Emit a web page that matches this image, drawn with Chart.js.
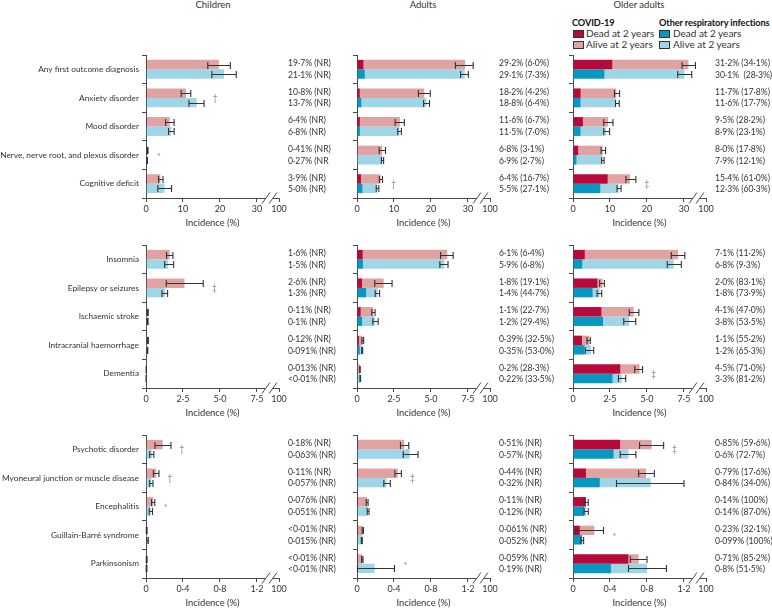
<!DOCTYPE html>
<html>
<head>
<meta charset="utf-8">
<script src="https://cdn.jsdelivr.net/npm/chart.js@4.4.1/dist/chart.umd.min.js"></script>
<style>
  body { margin: 0; background: #fff; font-family: Lato, sans-serif; color: #333; }
  #wrap { position: relative; width: 772px; height: 608px; overflow: hidden; }
  canvas { position: absolute; }
  .t { position: absolute; font-size: 9.5px; line-height: 11px; white-space: nowrap; }
  .lg { font-size: 10px; }
  .c { transform: translateX(-50%); }
  .b { font-weight: bold; color: #111; font-size: 9.2px; letter-spacing: -0.1px; }
  .sw { position: absolute; width: 9px; height: 6px; border: 1px solid #333; }
</style>
</head>
<body>
<div id="wrap">
  <div class="t c" style="left:213px;top:-1px">Children</div>
  <div class="t c" style="left:423px;top:-1px">Adults</div>
  <div class="t c" style="left:639px;top:-1px">Older adults</div>

  <div class="t b" style="left:572px;top:17px">COVID-19</div>
  <div class="sw" style="left:573px;top:30px;background:#b8093c"></div>
  <div class="t lg" style="left:586px;top:28px">Dead at 2 years</div>
  <div class="sw" style="left:573px;top:41px;background:#e1a3a1"></div>
  <div class="t lg" style="left:586px;top:39px">Alive at 2 years</div>

  <div class="t b" style="left:659px;top:17px">Other respiratory infections</div>
  <div class="sw" style="left:659px;top:30px;background:#0598c0"></div>
  <div class="t lg" style="left:673px;top:28px">Dead at 2 years</div>
  <div class="sw" style="left:659px;top:41px;background:#9fd6e7"></div>
  <div class="t lg" style="left:673px;top:39px">Alive at 2 years</div>
</div>
<script>
// outcome names, one row of panels each
const outcomes = [
  ['Any first outcome diagnosis', 'Anxiety disorder', 'Mood disorder', 'Nerve, nerve root, and plexus disorder', 'Cognitive deficit'],
  ['Insomnia', 'Epilepsy or seizures', 'Ischaemic stroke', 'Intracranial haemorrhage', 'Dementia'],
  ['Psychotic disorder', 'Myoneural junction or muscle disease', 'Encephalitis', 'Guillain-Barré syndrome', 'Parkinsonism']
];
const ageGroups = ['Children', 'Adults', 'Older adults'];
const tickValues = [[0, 10, 20, 30], [0, 2.5, 5, 7.5], [0, 0.4, 0.8, 1.2]];
const tickLabels = [['0', '10', '20', '30'], ['0', '2·5', '5·0', '7·5'], ['0', '0·4', '0·8', '1·2']];
const breakLabel = '100';

// children (15 values = 3 rows x 5 outcomes)
const childCovid     = [19.7, 10.8, 6.4, 0.41, 3.9,  1.6, 2.6, 0.11, 0.12, 0.013,  0.18, 0.11, 0.076, 0.005, 0.005];
const childCovidDead = [0.25, 0.25, 0.25, 0.25, 0.25,  0.05, 0.05, 0.05, 0.05, 0.005,  0.008, 0.008, 0.008, 0.004, 0.004];
const childCovidLo   = [16.7, 9.5, 5.3, 0.3, 3.4,  1.39, 1.37, 0.08, 0.09, 0.008,  0.097, 0.08, 0.06, 0.003, 0.003];
const childCovidHi   = [22.8, 12.1, 7.6, 0.55, 4.6,  1.82, 3.87, 0.15, 0.16, 0.02,  0.27, 0.14, 0.095, 0.012, 0.012];
const childOther     = [21.1, 13.7, 6.8, 0.27, 5.0,  1.5, 1.3, 0.1, 0.091, 0.005,  0.063, 0.057, 0.051, 0.015, 0.005];
const childOtherDead = [0.25, 0.25, 0.25, 0.25, 0.25,  0.05, 0.05, 0.05, 0.05, 0.004,  0.008, 0.008, 0.008, 0.006, 0.004];
const childOtherLo   = [17.8, 11.6, 6.1, 0.2, 3.2,  1.26, 1.08, 0.07, 0.07, 0.002,  0.04, 0.04, 0.035, 0.008, 0.002];
const childOtherHi   = [24.4, 15.7, 7.6, 0.4, 6.9,  1.87, 1.46, 0.14, 0.12, 0.012,  0.085, 0.075, 0.07, 0.025, 0.01];
const childCovidText = ['19·7% (NR)', '10·8% (NR)', '6·4% (NR)', '0·41% (NR)', '3·9% (NR)', '1·6% (NR)', '2·6% (NR)', '0·11% (NR)', '0·12% (NR)', '0·013% (NR)', '0·18% (NR)', '0·11% (NR)', '0·076% (NR)', '<0·01% (NR)', '<0·01% (NR)'];
const childOtherText = ['21·1% (NR)', '13·7% (NR)', '6·8% (NR)', '0·27% (NR', '5·0% (NR)', '1·5% (NR)', '1·3% (NR)', '0·1% (NR)', '0·091% (NR)', '<0·01% (NR)', '0·063% (NR)', '0·057% (NR)', '0·051% (NR)', '0·015% (NR)', '<0·01% (NR)'];
const childMarks     = ['', '†', '', '*', '',  '', '‡', '', '', '',  '†', '†', '*', '', ''];

// adults
const adultCovid     = [29.2, 18.2, 11.6, 6.8, 6.4,  6.1, 1.8, 1.1, 0.39, 0.2,  0.51, 0.44, 0.11, 0.061, 0.059];
const adultCovidDead = [1.75, 0.76, 0.78, 0.21, 1.07,  0.39, 0.34, 0.25, 0.13, 0.057,  0.012, 0.012, 0.012, 0.012, 0.012];
const adultCovidLo   = [26.6, 16.6, 10.3, 6.0, 6.05,  5.65, 1.2, 1.0, 0.33, 0.18,  0.47, 0.41, 0.1, 0.055, 0.05];
const adultCovidHi   = [31.4, 19.8, 12.8, 7.7, 6.9,  6.5, 2.37, 1.22, 0.45, 0.22,  0.56, 0.48, 0.12, 0.07, 0.065];
const adultOther     = [29.1, 18.8, 11.5, 6.9, 5.5,  5.9, 1.4, 1.2, 0.35, 0.22,  0.57, 0.32, 0.12, 0.052, 0.19];
const adultOtherDead = [2.12, 1.2, 0.8, 0.19, 1.49,  0.4, 0.63, 0.35, 0.19, 0.074,  0.012, 0.012, 0.012, 0.012, 0.012];
const adultOtherLo   = [28.0, 18.0, 11.0, 6.6, 5.2,  5.6, 1.23, 1.07, 0.32, 0.2,  0.5, 0.29, 0.11, 0.047, 0.005];
const adultOtherHi   = [30.1, 19.6, 12.0, 7.2, 5.9,  6.15, 1.53, 1.43, 0.38, 0.24,  0.66, 0.36, 0.13, 0.057, 0.405];
const adultCovidText = ['29·2% (6·0%)', '18·2% (4·2%)', '11·6% (6·7%)', '6·8% (3·1%)', '6·4% (16·7%)', '6·1% (6·4%)', '1·8% (19·1%)', '1·1% (22·7%)', '0·39% (32·5%)', '0·2% (28·3%)', '0·51% (NR)', '0·44% (NR)', '0·11% (NR)', '0·061% (NR)', '0·059% (NR)'];
const adultOtherText = ['29·1% (7·3%)', '18·8% (6·4%)', '11·5% (7·0%)', '6·9% (2·7%)', '5·5% (27·1%)', '5·9% (6·8%)', '1·4% (44·7%)', '1·2% (29·4%)', '0·35% (53·0%)', '0·22% (33·5%)', '0·57% (NR)', '0·32% (NR)', '0·12% (NR)', '0·052% (NR)', '0·19% (NR)'];
const adultMarks     = ['', '', '', '', '†',  '', '', '', '', '',  '', '‡', '', '', '*'];

// older adults
const oldCovid     = [31.2, 11.7, 9.5, 8.0, 15.4,  7.1, 2.0, 4.1, 1.1, 4.5,  0.85, 0.79, 0.14, 0.23, 0.71];
const oldCovidDead = [10.64, 2.08, 2.68, 1.42, 9.39,  0.8, 1.66, 1.93, 0.61, 3.2,  0.51, 0.14, 0.14, 0.074, 0.6];
const oldCovidLo   = [29.5, 11.2, 8.3, 7.6, 14.3,  6.64, 1.8, 3.8, 0.95, 4.17,  0.72, 0.71, 0.12, 0.03, 0.62];
const oldCovidHi   = [33.1, 12.6, 10.8, 8.8, 17.0,  7.56, 2.12, 4.45, 1.17, 4.7,  0.98, 0.88, 0.165, 0.33, 0.8];
const oldOther     = [30.1, 11.6, 8.9, 7.9, 12.3,  6.8, 1.8, 3.8, 1.2, 3.3,  0.6, 0.84, 0.14, 0.099, 0.8];
const oldOtherDead = [8.52, 2.05, 2.06, 0.96, 7.42,  0.63, 1.33, 2.03, 0.78, 2.68,  0.44, 0.29, 0.12, 0.099, 0.41];
const oldOtherLo   = [28.3, 11.5, 8.3, 7.75, 11.9,  6.37, 1.63, 3.43, 0.83, 3.07,  0.51, 0.47, 0.12, 0.085, 0.6];
const oldOtherHi   = [32.1, 12.5, 9.9, 8.4, 13.0,  7.32, 1.94, 4.24, 1.4, 3.56,  0.68, 1.2, 0.165, 0.115, 1.01];
const oldCovidText = ['31·2% (34·1%)', '11·7% (17·8%)', '9·5% (28·2%)', '8·0% (17·8%)', '15·4% (61·0%)', '7·1% (11·2%)', '2·0% (83·1%)', '4·1% (47·0%)', '1·1% (55·2%)', '4·5% (71·0%)', '0·85% (59·6%)', '0·79% (17·6%)', '0·14% (100%)', '0·23% (32·1%)', '0·71% (85·2%)'];
const oldOtherText = ['30·1%  (28·3%)', '11·6% (17·7%)', '8·9% (23·1%)', '7·9% (12·1%)', '12·3% (60·3%)', '6·8% (9·3%)', '1·8% (73·9%)', '3·8% (53·5%)', '1·2% (65·3%)', '3·3% (81·2%)', '0·6% (72·7%)', '0·84% (34·0%)', '0·14% (87·0%)', '0·099% (100%)', '0·8% (51·5%)'];
const oldMarks     = ['', '', '', '', '‡',  '', '', '', '', '‡',  '‡', '', '', '*', ''];

const panelsData = [
  { covid: childCovid, covidDead: childCovidDead, covidLo: childCovidLo, covidHi: childCovidHi,
    other: childOther, otherDead: childOtherDead, otherLo: childOtherLo, otherHi: childOtherHi,
    covidText: childCovidText, otherText: childOtherText, marks: childMarks },
  { covid: adultCovid, covidDead: adultCovidDead, covidLo: adultCovidLo, covidHi: adultCovidHi,
    other: adultOther, otherDead: adultOtherDead, otherLo: adultOtherLo, otherHi: adultOtherHi,
    covidText: adultCovidText, otherText: adultOtherText, marks: adultMarks },
  { covid: oldCovid, covidDead: oldCovidDead, covidLo: oldCovidLo, covidHi: oldCovidHi,
    other: oldOther, otherDead: oldOtherDead, otherLo: oldOtherLo, otherHi: oldOtherHi,
    covidText: oldCovidText, otherText: oldOtherText, marks: oldMarks }
];

const colors = { covidDead: '#b8093c', covidAlive: '#e1a3a1', otherDead: '#0598c0', otherAlive: '#9fd6e7' };
const axisColor = '#4a4a4a';
const txtColor = '#333';

Chart.defaults.font.family = 'Lato, sans-serif';

// canvas geometry per column: left, width, y-axis width, right padding
const colBox = [[0, 352, 146, 73], [352, 214, 5, 76], [566, 206, 7, 66]];
const rowTop = [45, 235, 425];

// error bars, labels at right, footnote marks
const extrasPlugin = {
  id: 'extras',
  afterDatasetsDraw(chart) {
    const e = chart.options.plugins.extras;
    const ctx = chart.ctx;
    const xs = chart.scales.x;
    ctx.save();
    ctx.strokeStyle = '#333';
    ctx.lineWidth = 1.1;
    [[1, e.covidLo, e.covidHi], [3, e.otherLo, e.otherHi]].forEach(([di, lo, hi]) => {
      chart.getDatasetMeta(di).data.forEach((bar, i) => {
        const x1 = xs.getPixelForValue(lo[i]), x2 = xs.getPixelForValue(hi[i]);
        const y = Math.round(bar.y) + 0.5;
        ctx.beginPath();
        ctx.moveTo(x1, y); ctx.lineTo(x2, y);
        ctx.moveTo(x1, y - 3.5); ctx.lineTo(x1, y + 3.5);
        ctx.moveTo(x2, y - 3.5); ctx.lineTo(x2, y + 3.5);
        ctx.stroke();
      });
    });
    ctx.restore();
  },
  afterDraw(chart) {
    const e = chart.options.plugins.extras;
    const ctx = chart.ctx;
    const xs = chart.scales.x, ys = chart.scales.y;
    const area = chart.chartArea;
    ctx.save();
    ctx.font = '8.6px Lato, sans-serif';
    ctx.fillStyle = txtColor;
    ctx.textBaseline = 'middle';
    ctx.textAlign = 'left';
    e.covidText.forEach((t, i) => {
      const yc = ys.getPixelForValue(i);
      ctx.fillText(t, area.right + 9, yc - 5.8);
      ctx.fillText(e.otherText[i], area.right + 9, yc + 5.8);
    });
    // footnote marks
    ctx.fillStyle = '#8a8a8a';
    ctx.font = '9px Lato, sans-serif';
    e.marks.forEach((m, i) => {
      if (!m) return;
      const x = Math.max(xs.getPixelForValue(e.covidHi[i]), xs.getPixelForValue(e.otherHi[i])) + 11;
      ctx.textAlign = 'center';
      ctx.fillText(m, x, ys.getPixelForValue(i) + (m === '*' ? 2 : 0));
    });
    // axis break
    const y0 = area.bottom;
    const xb = xs.getPixelForValue(e.lastTick);
    ctx.fillStyle = '#fff';
    ctx.fillRect(xb + 9, y0 - 2, 7, 4);
    ctx.strokeStyle = axisColor;
    ctx.lineWidth = 1;
    [xb + 9, xb + 16].forEach(cx => {
      ctx.beginPath();
      ctx.moveTo(cx - 4, y0 + 5.5);
      ctx.lineTo(cx + 4, y0 - 5.5);
      ctx.stroke();
    });
    ctx.restore();
  }
};

const wrap = document.getElementById('wrap');

for (let r = 0; r < 3; r++) {
  for (let a = 0; a < 3; a++) {
    const d = panelsData[a];
    const [left, width, yW, rPad] = colBox[a];
    const cv = document.createElement('canvas');
    cv.width = width; cv.height = 190;
    cv.style.left = left + 'px';
    cv.style.top = rowTop[r] + 'px';
    wrap.appendChild(cv);

    const sl = arr => arr.slice(r * 5, r * 5 + 5);
    const covid = sl(d.covid), covidDead = sl(d.covidDead);
    const other = sl(d.other), otherDead = sl(d.otherDead);
    const ticksV = tickValues[r];
    const step = ticksV[1] - ticksV[0];
    const last = ticksV[ticksV.length - 1];
    const xMax = last + step * 0.595;

    new Chart(cv, {
      type: 'bar',
      data: {
        labels: outcomes[r],
        datasets: [
          { label: 'COVID-19 dead', data: covidDead, stack: 'covid', backgroundColor: colors.covidDead },
          { label: 'COVID-19 alive', data: covid.map((v, i) => v - covidDead[i]), stack: 'covid', backgroundColor: colors.covidAlive },
          { label: 'Other dead', data: otherDead, stack: 'other', backgroundColor: colors.otherDead },
          { label: 'Other alive', data: other.map((v, i) => v - otherDead[i]), stack: 'other', backgroundColor: colors.otherAlive }
        ]
      },
      options: {
        indexAxis: 'y',
        responsive: false,
        animation: false,
        layout: { padding: { top: 10, right: rPad, left: 0, bottom: 0 } },
        datasets: { bar: { categoryPercentage: 0.66, barPercentage: 1, borderWidth: 0 } },
        plugins: {
          legend: { display: false },
          tooltip: { enabled: false },
          extras: {
            covidLo: sl(d.covidLo), covidHi: sl(d.covidHi),
            otherLo: sl(d.otherLo), otherHi: sl(d.otherHi),
            covidText: sl(d.covidText), otherText: sl(d.otherText),
            marks: sl(d.marks), lastTick: last
          }
        },
        scales: {
          x: {
            type: 'linear', stacked: true, min: 0, max: xMax,
            afterBuildTicks: s => { s.ticks = ticksV.map(v => ({ value: v })).concat([{ value: xMax }]); },
            ticks: {
              autoSkip: false, maxRotation: 0, padding: 2, color: txtColor,
              font: { size: 9 },
              callback: (v, i) => i < ticksV.length ? tickLabels[r][i] : breakLabel
            },
            grid: { drawOnChartArea: false, tickLength: 4, color: axisColor },
            border: { color: axisColor, width: 1 },
            title: { display: true, text: 'Incidence (%)', color: txtColor, font: { size: 9.4 }, padding: { top: 0, bottom: 6 } },
            afterFit: s => { s.height = 37; }
          },
          y: {
            stacked: true,
            grid: { drawOnChartArea: false, tickLength: 4, color: axisColor, offset: true },
            border: { color: axisColor, width: 1 },
            ticks: { display: a === 0, color: txtColor, font: { size: 8.3 }, padding: 3 },
            afterFit: s => { s.width = yW; }
          }
        }
      },
      plugins: [extrasPlugin]
    });
  }
}
</script>
</body>
</html>
